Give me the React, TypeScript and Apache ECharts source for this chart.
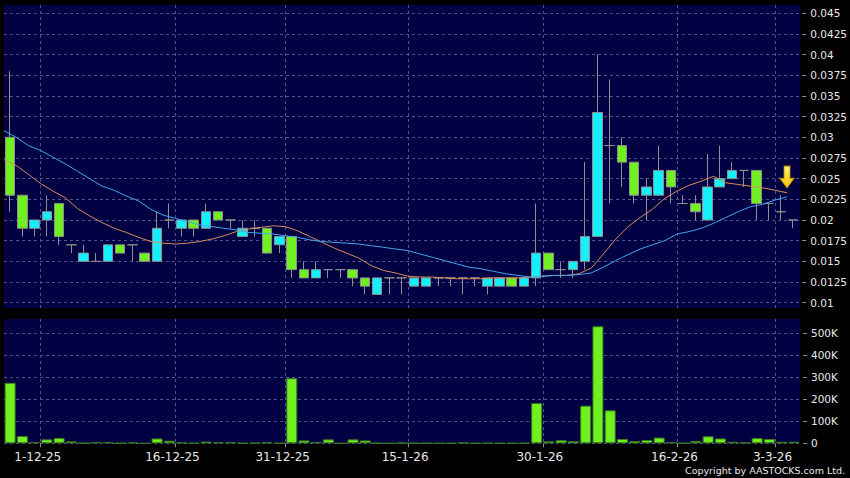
import React, { useEffect, useRef } from 'react';
import * as echarts from 'echarts';

// Trading days shown (d-m-yy)
const dates = [
  '26-11-25', '27-11-25', '28-11-25',
  '1-12-25', '2-12-25', '3-12-25', '4-12-25', '5-12-25', '8-12-25', '9-12-25', '10-12-25', '11-12-25', '12-12-25',
  '15-12-25', '16-12-25', '17-12-25', '18-12-25', '19-12-25', '22-12-25', '23-12-25', '24-12-25', '29-12-25', '30-12-25', '31-12-25',
  '2-1-26', '5-1-26', '6-1-26', '7-1-26', '8-1-26', '9-1-26', '12-1-26', '13-1-26', '14-1-26', '15-1-26', '16-1-26',
  '19-1-26', '20-1-26', '21-1-26', '22-1-26', '23-1-26', '26-1-26', '27-1-26', '28-1-26', '29-1-26', '30-1-26',
  '2-2-26', '3-2-26', '4-2-26', '5-2-26', '6-2-26', '9-2-26', '10-2-26', '11-2-26', '12-2-26', '13-2-26', '16-2-26',
  '20-2-26', '23-2-26', '24-2-26', '25-2-26', '26-2-26', '27-2-26',
  '2-3-26', '3-3-26', '4-3-26',
];

const openP = [
  0.030, 0.023, 0.019, 0.020, 0.022, 0.017, 0.015, 0.015, 0.015, 0.017,
  0.017, 0.016, 0.015, 0.020, 0.019, 0.020, 0.019, 0.021, 0.020, 0.018,
  0.019, 0.019, 0.017, 0.018, 0.014, 0.013, 0.014, 0.014, 0.014, 0.013,
  0.011, 0.013, 0.013, 0.012, 0.012, 0.013, 0.013, 0.013, 0.013, 0.012,
  0.012, 0.013, 0.012, 0.013, 0.016, 0.014, 0.014, 0.015, 0.018, 0.029,
  0.029, 0.027, 0.023, 0.023, 0.026, 0.022, 0.022, 0.020, 0.024, 0.025,
  0.026, 0.026, 0.022, 0.021, 0.020,
];
const closeP = [
  0.023, 0.019, 0.020, 0.021, 0.018, 0.017, 0.016, 0.015, 0.017, 0.016,
  0.017, 0.015, 0.019, 0.020, 0.020, 0.019, 0.021, 0.020, 0.020, 0.019,
  0.019, 0.016, 0.018, 0.014, 0.013, 0.014, 0.014, 0.014, 0.013, 0.012,
  0.013, 0.013, 0.013, 0.013, 0.013, 0.013, 0.013, 0.013, 0.013, 0.013,
  0.013, 0.012, 0.013, 0.016, 0.014, 0.014, 0.015, 0.018, 0.033, 0.029,
  0.027, 0.023, 0.024, 0.026, 0.024, 0.022, 0.021, 0.024, 0.025, 0.026,
  0.026, 0.022, 0.022, 0.021, 0.020,
];
const lowP = [
  0.021, 0.018, 0.018, 0.018, 0.017, 0.016, 0.015, 0.015, 0.015, 0.016,
  0.015, 0.015, 0.015, 0.019, 0.018, 0.018, 0.019, 0.020, 0.019, 0.018,
  0.018, 0.016, 0.016, 0.013, 0.013, 0.013, 0.013, 0.013, 0.012, 0.011,
  0.011, 0.011, 0.011, 0.012, 0.012, 0.012, 0.012, 0.011, 0.012, 0.011,
  0.012, 0.012, 0.012, 0.012, 0.014, 0.013, 0.013, 0.014, 0.018, 0.022,
  0.024, 0.022, 0.020, 0.023, 0.022, 0.022, 0.020, 0.020, 0.024, 0.025,
  0.024, 0.020, 0.020, 0.020, 0.019,
];
const highP = [
  0.038, 0.023, 0.020, 0.023, 0.022, 0.017, 0.017, 0.016, 0.017, 0.017,
  0.017, 0.016, 0.021, 0.022, 0.020, 0.020, 0.022, 0.021, 0.020, 0.020,
  0.020, 0.019, 0.018, 0.018, 0.015, 0.015, 0.014, 0.014, 0.014, 0.013,
  0.013, 0.013, 0.013, 0.013, 0.013, 0.013, 0.013, 0.013, 0.013, 0.013,
  0.013, 0.013, 0.013, 0.022, 0.016, 0.015, 0.015, 0.027, 0.040, 0.037,
  0.030, 0.027, 0.025, 0.029, 0.026, 0.023, 0.023, 0.028, 0.029, 0.027,
  0.026, 0.026, 0.022, 0.023, 0.020,
];

const volume = [
  275000, 33000, 6000, 18000, 24000, 9000, 1500, 6000, 6000, 1000,
  5000, 0, 22000, 12000, 4000, 1000, 8000, 5000, 5000, 1000,
  2000, 5000, 1000, 296000, 13000, 6000, 18000, 0, 18000, 13000,
  1000, 0, 3000, 1000, 1000, 500, 500, 3000, 500, 1000,
  500, 500, 1000, 183000, 9000, 14000, 10000, 171000, 532000, 150000,
  20000, 10000, 15000, 26000, 6000, 1000, 11000, 32000, 22000, 7000,
  4000, 24000, 20000, 7000, 7000,
];

// Moving averages, read at the left edge of each day's slot
const maShort = [
  0.0273, 0.0266, 0.0255, 0.0244, 0.0235, 0.0227, 0.0214, 0.0205, 0.0197, 0.0190,
  0.0185, 0.0179, 0.0174, 0.0172, 0.0171, 0.0172, 0.0174, 0.0177, 0.0181, 0.0186,
  0.0189, 0.0191, 0.0193, 0.0192, 0.0187, 0.0180, 0.0173, 0.0166, 0.0160, 0.0154,
  0.0145, 0.0139, 0.0136, 0.0132, 0.0131, 0.0131, 0.0130, 0.0129, 0.0129, 0.0129,
  0.0130, 0.0130, 0.0130, 0.0131, 0.0132, 0.0133, 0.0133, 0.0135, 0.0142, 0.0159,
  0.0177, 0.0192, 0.0203, 0.0213, 0.0226, 0.0235, 0.0242, 0.0247, 0.0253, 0.0245,
  0.0243, 0.0241, 0.0239, 0.0236, 0.0233,
];
const maLong = [
  0.0308, 0.0300, 0.0290, 0.0284, 0.0276, 0.0268, 0.0259, 0.0250, 0.0241, 0.0236,
  0.0229, 0.0223, 0.0213, 0.0206, 0.0202, 0.0198, 0.0194, 0.0192, 0.0190, 0.0188,
  0.0185, 0.0184, 0.0183, 0.0181, 0.0179, 0.0176, 0.0174, 0.0173, 0.0172, 0.0171,
  0.0169, 0.0167, 0.0165, 0.0163, 0.0159, 0.0155, 0.0151, 0.0147, 0.0143, 0.0141,
  0.0138, 0.0135, 0.0133, 0.0131, 0.0132, 0.0133, 0.0133, 0.0134, 0.0136, 0.0143,
  0.0151, 0.0158, 0.0165, 0.0170, 0.0175, 0.0183, 0.0186, 0.0190, 0.0196, 0.0203,
  0.0210, 0.0216, 0.0219, 0.0224, 0.0228,
];

const tickDates = ['1-12-25', '16-12-25', '31-12-25', '15-1-26', '30-1-26', '16-2-26', '3-3-26'];
const PRICE_MIN = 0.01;
const PRICE_MAX = 0.045;
const PRICE_STEP = 0.0025;
const VOL_MIN = 0;
const VOL_MAX = 500000;
const VOL_STEP = 100000;
const ARROW_AT = '4-3-26';
const ARROW_VALUE = 0.0252;

const NAVY = '#000042';
const GRID_LINE = '#50508a';
const CYAN = '#14f0fa';
const LIME = '#70f020';
const GRAY = '#8e8e8e';
const TEXT = '#e8e8e8';
const FONT = 'DejaVu Sans';

export default function App() {
  const ref = useRef<HTMLDivElement>(null);

  useEffect(() => {
    const chart = echarts.init(ref.current!, undefined, { renderer: 'svg' });
    const edges = [...dates, ''];
    const isTick = (i: number) => tickDates.includes(edges[i]);
    const dashed = { show: true, lineStyle: { color: GRID_LINE, width: 1, type: [3, 3] as any } };
    const L = 4;
    const R = 50;

    const option: any = {
      animation: false,
      backgroundColor: '#000',
      textStyle: { fontFamily: FONT },
      grid: [
        { left: L, right: R, top: 5, height: 303, show: true, backgroundColor: NAVY, borderWidth: 0 },
        { left: L, right: R, top: 13.3, height: 289.4 },
        { left: L, right: R, top: 319, height: 124.3, show: true, backgroundColor: NAVY, borderWidth: 0 },
        { left: L, right: R, top: 333.3, height: 110 },
      ],
      xAxis: [
        {
          gridIndex: 0, type: 'category', data: edges, boundaryGap: false,
          axisLine: { show: false }, axisTick: { show: false }, axisLabel: { show: false },
          splitLine: { ...dashed, interval: (i: number) => isTick(i) },
        },
        { gridIndex: 1, type: 'category', data: dates, boundaryGap: true, show: false },
        { gridIndex: 1, type: 'category', data: edges, boundaryGap: false, show: false, position: 'top' },
        {
          gridIndex: 2, type: 'category', data: edges, boundaryGap: false,
          axisLine: { show: false },
          axisTick: { show: true, interval: (i: number) => isTick(i), length: 4, lineStyle: { color: GRAY } },
          axisLabel: {
            show: true, interval: (i: number) => isTick(i), color: TEXT, fontSize: 12,
            fontFamily: FONT, margin: 8, padding: [0, 6, 0, 0],
          },
          splitLine: { ...dashed, interval: (i: number) => isTick(i) },
        },
        { gridIndex: 3, type: 'category', data: dates, boundaryGap: true, show: false },
      ],
      yAxis: [
        { gridIndex: 0, type: 'value', show: false, min: 0, max: 1, splitLine: { show: false } },
        {
          gridIndex: 1, type: 'value', position: 'right', min: PRICE_MIN, max: PRICE_MAX, interval: PRICE_STEP,
          offset: 3,
          axisLine: { show: false },
          axisTick: { show: true, length: 4, lineStyle: { color: GRAY } },
          axisLabel: {
            color: TEXT, fontSize: 10.5, fontFamily: FONT, margin: 8,
            formatter: (v: number) => String(Number(v.toFixed(4))),
          },
          splitLine: dashed,
        },
        { gridIndex: 2, type: 'value', show: false, min: 0, max: 1, splitLine: { show: false } },
        {
          gridIndex: 3, type: 'value', position: 'right', min: VOL_MIN, max: VOL_MAX, interval: VOL_STEP,
          offset: 3,
          axisLine: { show: false },
          axisTick: { show: true, length: 4, lineStyle: { color: GRAY } },
          axisLabel: {
            color: TEXT, fontSize: 10.5, fontFamily: FONT, margin: 8,
            formatter: (v: number) => (v === 0 ? '0' : Math.round(v / 1000) + 'K'),
          },
          splitLine: dashed,
        },
      ],
      series: [
        {
          name: 'MA short', type: 'line', xAxisIndex: 2, yAxisIndex: 1, data: maShort,
          showSymbol: false, symbol: 'none', lineStyle: { color: '#d88c5c', width: 1 },
        },
        {
          name: 'MA long', type: 'line', xAxisIndex: 2, yAxisIndex: 1, data: maLong,
          showSymbol: false, symbol: 'none', lineStyle: { color: '#42a6ee', width: 1 },
          markPoint: {
            symbol: 'path://M4,0 L10,0 L10,13 L14,13 L7,23 L0,13 L4,13 Z',
            symbolSize: [14, 22],
            label: { show: false },
            itemStyle: {
              color: new echarts.graphic.LinearGradient(0, 0, 0, 1, [
                { offset: 0, color: '#fff27a' },
                { offset: 1, color: '#f5c400' },
              ]),
              borderColor: '#b88a00', borderWidth: 1,
            },
            data: [{ coord: [ARROW_AT, ARROW_VALUE] }],
          },
        },
        {
          name: 'Price', type: 'candlestick', xAxisIndex: 1, yAxisIndex: 1,
          data: dates.map((_, i) => [openP[i], closeP[i], lowP[i], highP[i]]),
          barWidth: 10,
          itemStyle: {
            color: CYAN, color0: LIME, borderColor: GRAY, borderColor0: GRAY, borderColorDoji: GRAY, borderWidth: 1,
          },
        },
        {
          name: 'Volume', type: 'bar', xAxisIndex: 4, yAxisIndex: 3, data: volume,
          barWidth: 11, clip: false,
          itemStyle: { color: LIME, borderColor: '#3a7a1a', borderWidth: 1 },
        },
      ],
      graphic: [
        {
          type: 'text', right: 5, top: 465,
          style: { text: 'Copyright by AASTOCKS.com Ltd.', fill: TEXT, font: `9.5px "${FONT}"` },
        },
      ],
    };

    chart.setOption(option);
    return () => chart.dispose();
  }, []);

  return (
    <div
      ref={ref}
      style={{ position: 'absolute', left: 0, top: 0, width: 850, height: 478, background: '#000' }}
    />
  );
}
